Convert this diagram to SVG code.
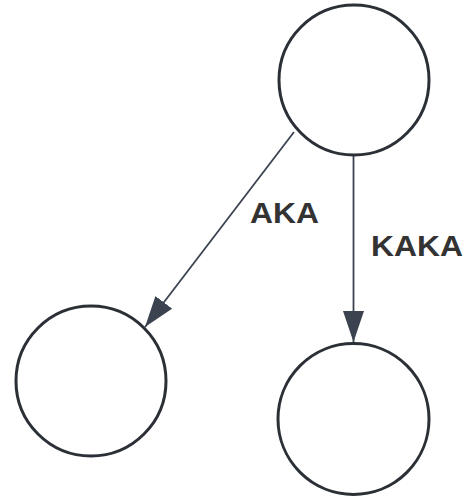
<svg xmlns="http://www.w3.org/2000/svg" width="467" height="496" viewBox="0 0 467 496">
<style>
.node{fill:#ffffff;stroke:#2b2f36;stroke-width:3}
.edge{stroke:#3b4350;stroke-width:1.8;fill:none}
.lbl{font-family:"Liberation Sans",Arial,sans-serif;font-weight:bold;font-size:29px;fill:#333333}
</style>
<defs>
<marker id="arr" markerUnits="userSpaceOnUse" markerWidth="31" markerHeight="21" viewBox="0 0 31 21" refX="31" refY="10.5" orient="auto">
<path d="M0,0 L31,10.5 L0,21 z" fill="#3b4350"/>
</marker>
</defs>
<rect width="467" height="496" fill="#ffffff"/>
<g id="edges">
<line class="edge" x1="294" y1="132" x2="145" y2="327" marker-end="url(#arr)"/>
<line class="edge" x1="353.5" y1="156" x2="353.5" y2="342" marker-end="url(#arr)"/>
<text class="lbl" x="250" y="223" textLength="69" lengthAdjust="spacingAndGlyphs">AKA</text>
<text class="lbl" x="371" y="256" textLength="92" lengthAdjust="spacingAndGlyphs">KAKA</text>
</g>
<g id="n1"><circle class="node" cx="354" cy="80" r="75"/></g>
<g id="n2"><circle class="node" cx="91" cy="381" r="75"/></g>
<g id="n3"><circle class="node" cx="353.5" cy="419" r="75.5"/></g>
</svg>
